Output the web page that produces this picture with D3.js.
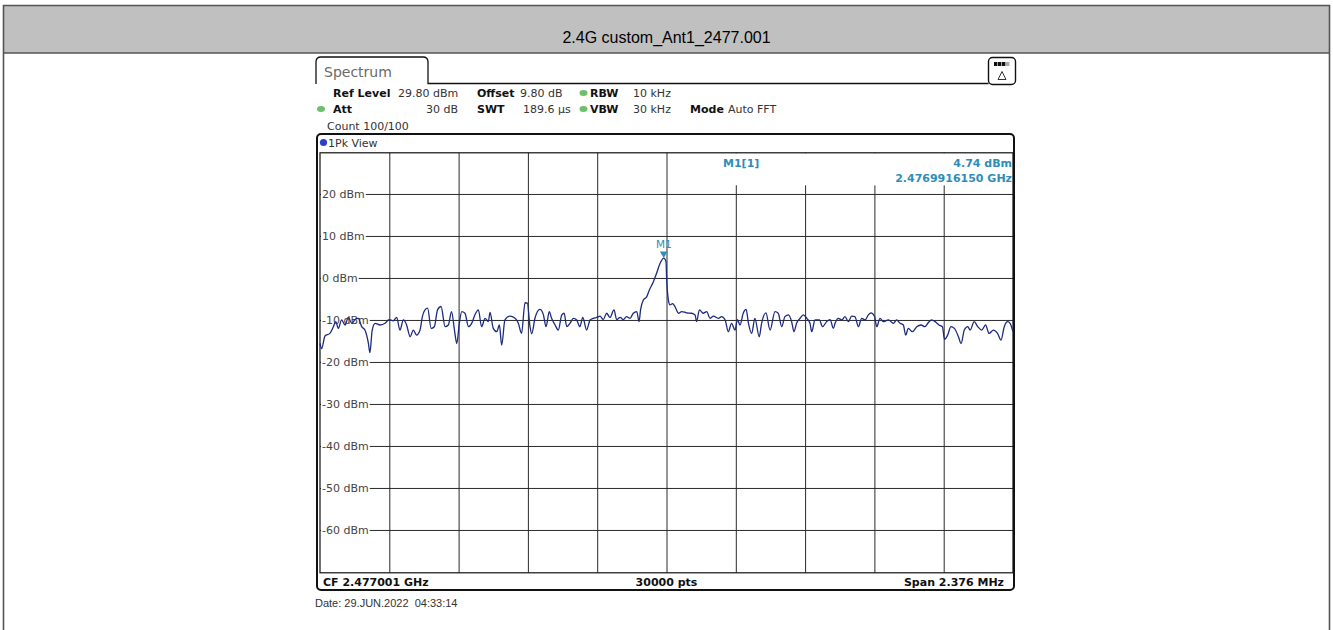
<!DOCTYPE html>
<html>
<head>
<meta charset="utf-8">
<script src="https://cdn.jsdelivr.net/npm/d3@7"></script>
<style>
  body { margin: 0; background: #fff; }
  svg { display: block; }
</style>
</head>
<body>
<div id="chart"></div>
<script>
var freqKHz = [
  -1188, -1182, -1171, -1154, -1142, -1134, -1125, -1114, -1102, -1091, -1079, -1068, -1057, -1045, -1034,
  -1022, -1017, -1009, -999, -982, -965, -951, -937, -925, -914, -902, -891, -879, -868, -857, -845, -837,
  -828, -819, -807, -796, -785, -773, -759, -748, -737, -727, -719, -711, -702, -691, -679, -668, -657,
  -645, -634, -622, -611, -605, -594, -582, -573, -565, -554, -537, -519, -508, -497, -485, -477, -468,
  -462, -451, -434, -422, -413, -402, -394, -382, -371, -359, -351, -342, -331, -319, -308, -297, -287,
  -274, -262, -251, -239, -228, -217, -205, -194, -180, -171, -159, -148, -137, -125, -114, -102, -94,
  -89, -79, -68, -59, -45, -34, -22, -9.4, -1.6, 0.6, 2.9, 6.3, 12, 21, 29, 41, 52, 69, 86, 98, 103, 113,
  126, 138, 149, 161, 178, 189, 201, 212, 223, 235, 243, 252, 263, 273, 281, 292, 303, 318, 326, 341, 355,
  372, 383, 395, 406, 418, 429, 437, 446, 458, 469, 481, 492, 498, 509, 524, 535, 549, 561, 572, 578, 589,
  601, 612, 623, 635, 646, 658, 669, 681, 692, 701, 713, 721, 732, 743, 761, 778, 789, 801, 812, 820, 829,
  843, 858, 873, 886, 898, 909, 921, 934, 946, 953, 964, 975, 987, 1001, 1010, 1021, 1033, 1041, 1055,
  1067, 1081, 1094, 1106, 1121, 1135, 1147, 1158, 1170, 1178, 1188
];
var levelDbm = [
  -15.6, -16.8, -13.8, -13.2, -11.6, -10.4, -12.0, -10.0, -11.2, -9.4, -10.8, -9.9, -9.6, -11.6, -12.4,
  -15.6, -17.8, -12.4, -10.8, -11.2, -10.8, -9.9, -10.2, -9.4, -12.4, -10.0, -11.2, -14.0, -12.4, -13.6, -12.4, -9.2,
  -7.6, -7.2, -12.0, -11.6, -7.6, -6.8, -11.6, -11.2, -8.0, -12.4, -15.6, -11.2, -8.0, -8.4, -11.6, -10.8, -8.8,
  -7.6, -11.6, -9.6, -10.4, -8.2, -12.0, -12.8, -11.2, -16.0, -10.0, -9.1, -9.6, -10.8, -13.2, -5.9, -6.0, -11.6,
  -13.3, -9.6, -7.5, -8.8, -11.6, -8.0, -9.6, -11.2, -12.4, -8.8, -8.4, -11.6, -10.8, -9.6, -10.0, -11.6, -9.4,
  -12.4, -10.0, -9.6, -9.4, -9.1, -9.9, -8.4, -9.4, -7.6, -9.9, -9.4, -9.9, -9.2, -9.6, -8.4, -8.0, -10.4,
  -7.6, -5.2, -4.5, -2.9, -0.9, 1.1, 3.5, 4.74, 3.9, -0.5, -2.9, -5.2, -6.4, -6.1, -6.8, -8.4, -8.0, -8.3, -8.4, -8.8, -10.4, -7.6,
  -8.4, -8.0, -9.6, -9.1, -9.6, -9.2, -10.0, -12.8, -10.8, -12.4, -9.9, -11.2, -8.4, -7.5, -10.8, -13.2, -9.6, -14.0, -10.8, -8.3, -12.4,
  -8.0, -8.4, -11.6, -9.2, -8.8, -10.4, -12.8, -10.8, -9.6, -8.8, -9.6, -10.8, -12.8, -10.0, -10.0, -11.6, -10.4, -9.9, -12.0, -10.8, -9.6,
  -10.0, -9.2, -10.4, -9.1, -9.2, -11.6, -9.6, -10.0, -8.8, -8.3, -9.1, -11.6, -9.6, -10.4, -10.0, -10.8, -10.0, -10.8, -11.2, -13.6, -12.0,
  -12.8, -11.6, -11.2, -11.6, -10.6, -10.0, -10.4, -11.2, -11.6, -14.6, -13.6, -11.6, -12.0, -14.0, -15.6, -12.4, -11.6, -12.4, -10.4,
  -11.6, -12.4, -11.2, -13.2, -12.4, -13.2, -14.8, -11.6, -10.4, -10.8, -12.8
];

// axis settings of the analyzer
var yTicks = [20, 10, 0, -10, -20, -30, -40, -50, -60];
var refLevel = 29.8;
var spanKHz = 2376;
var marker = { name: 'M1', freqKHz: -9.4, level: 4.74, label: 'M1[1]', value: '4.74 dBm', freq: '2.4769916150 GHz' };

var title = '2.4G custom_Ant1_2477.001';
var headerRows = [
  [ { t: 'Ref Level', x: 333, b: true }, { t: '29.80 dBm', x: 398 }, { t: 'Offset', x: 477, b: true },
    { t: '9.80 dB', x: 520 }, { t: 'RBW', x: 590, b: true }, { t: '10 kHz', x: 633 } ],
  [ { t: 'Att', x: 333, b: true }, { t: '30 dB', x: 458, anchor: 'end' }, { t: 'SWT', x: 477, b: true },
    { t: '189.6 µs', x: 523 }, { t: 'VBW', x: 590, b: true }, { t: '30 kHz', x: 633 },
    { t: 'Mode', x: 690, b: true }, { t: 'Auto FFT', x: 728 } ],
  [ { t: 'Count 100/100', x: 327 } ]
];
var statusTexts = ['CF 2.477001 GHz', '30000 pts', 'Span 2.376 MHz'];
var dateText = 'Date: 29.JUN.2022  04:33:14';

var W = 1333, H = 630;
var plot = { left: 320, right: 1013, top: 152.8, bottom: 572.8 };
var mono = '"DejaVu Sans", Verdana, sans-serif';
var traceColor = '#1d2b7d', markerColor = '#2f8db8';

var svg = d3.select('#chart').append('svg')
    .attr('width', W)
    .attr('height', H);

svg.append('rect').attr('width', W).attr('height', H).attr('fill', '#fff');

//
// outer page box + title bar
//
svg.append('rect')
    .attr('x', 4).attr('y', 5.5).attr('width', 1325).attr('height', 47.5)
    .attr('fill', '#c0c0c0');
svg.append('path')
    .attr('d', 'M3.5,' + (H + 5) + 'V5.5H1329.5V' + (H + 5))
    .attr('fill', 'none').attr('stroke', '#555').attr('stroke-width', 1.6);
svg.append('line')
    .attr('x1', 3.5).attr('x2', 1329.5).attr('y1', 53).attr('y2', 53)
    .attr('stroke', '#555').attr('stroke-width', 1.4);
svg.append('text')
    .attr('x', 666.5).attr('y', 43)
    .attr('text-anchor', 'middle')
    .style('font-family', '"Liberation Sans", Arial, sans-serif')
    .style('font-size', '16px')
    .attr('fill', '#000')
    .text(title);

//
// tab + icon
//
svg.append('path')
    .attr('d', 'M316,84V62Q316,57 321,57H423Q428,57 428,62V83.5H988.5')
    .attr('fill', 'none').attr('stroke', '#111').attr('stroke-width', 1.3);
svg.append('text')
    .attr('x', 324).attr('y', 76.5)
    .style('font-family', mono).style('font-size', '14px')
    .attr('fill', '#6a6a6a')
    .text('Spectrum');

var icon = svg.append('g');
icon.append('rect')
    .attr('x', 988.5).attr('y', 57.5).attr('width', 27).attr('height', 27).attr('rx', 4)
    .attr('fill', '#fff').attr('stroke', '#111').attr('stroke-width', 1.4);
icon.selectAll('rect.seg')
    .data([0, 1, 2, 3])
    .enter().append('rect')
    .attr('class', 'seg')
    .attr('x', function (d) { return 994 + d * 4; })
    .attr('y', 62).attr('width', 3.4).attr('height', 4)
    .attr('fill', function (d) { return d < 3 ? '#111' : '#aaa'; });
icon.append('path')
    .attr('d', 'M998,79.5L1002,71.5L1006,79.5Z')
    .attr('fill', 'none').attr('stroke', '#333').attr('stroke-width', 1);

//
// header parameters
//
var rowBase = [97, 113, 129.5];
headerRows.forEach(function (row, i) {
  svg.append('g').selectAll('text')
      .data(row)
      .enter().append('text')
      .attr('x', function (d) { return d.x; })
      .attr('y', rowBase[i])
      .attr('text-anchor', function (d) { return d.anchor || 'start'; })
      .style('font-family', mono)
      .style('font-size', '11px')
      .style('font-weight', function (d) { return d.b ? 'bold' : 'normal'; })
      .attr('fill', function (d) { return d.b ? '#111' : '#333'; })
      .text(function (d) { return d.t; });
});
svg.selectAll('ellipse.led')
    .data([[583.5, 93], [321, 109], [583.5, 109]])
    .enter().append('ellipse')
    .attr('class', 'led')
    .attr('cx', function (d) { return d[0]; })
    .attr('cy', function (d) { return d[1]; })
    .attr('rx', 4).attr('ry', 3)
    .attr('fill', '#6cbf6c');

//
// diagram frame
//
svg.append('rect')
    .attr('x', 317).attr('y', 134).attr('width', 697).attr('height', 456).attr('rx', 4)
    .attr('fill', '#fff').attr('stroke', '#111').attr('stroke-width', 2);
svg.append('circle')
    .attr('cx', 323.5).attr('cy', 142.5).attr('r', 3.6)
    .attr('fill', '#2a3fd0');
svg.append('text')
    .attr('x', 328).attr('y', 146.5)
    .style('font-family', mono).style('font-size', '11px')
    .attr('fill', '#333')
    .text('1Pk View');

var x = d3.scaleLinear()
    .domain([-spanKHz / 2, spanKHz / 2])
    .range([plot.left, plot.right]);
var y = d3.scaleLinear()
    .domain([refLevel - 100, refLevel])
    .range([plot.bottom, plot.top]);

var xGrid = d3.range(1, 10).map(function (i) { return -spanKHz / 2 + i * spanKHz / 10; });

// grid via axes
var gx = svg.append('g')
    .attr('class', 'grid')
    .attr('transform', 'translate(0,' + plot.bottom + ')')
    .call(d3.axisBottom(x).tickValues(xGrid).tickSize(-(plot.bottom - plot.top)).tickFormat(''));
var gy = svg.append('g')
    .attr('class', 'grid')
    .attr('transform', 'translate(' + plot.left + ',0)')
    .call(d3.axisLeft(y).tickValues(yTicks).tickSize(-(plot.right - plot.left)).tickFormat(''));
svg.selectAll('.grid .domain').remove();
svg.selectAll('.grid line')
    .attr('stroke', '#2a2a2a')
    .attr('stroke-width', 1);

// marker table blanks the grid under it
svg.append('rect')
    .attr('x', x(0) + 2).attr('y', plot.top + 0.5)
    .attr('width', plot.right - x(0) - 2.5).attr('height', 32)
    .attr('fill', '#fff');

// y labels sit on their grid line with a white backing
var yl = svg.append('g').selectAll('g')
    .data(yTicks)
    .enter().append('g');
yl.append('rect').attr('class', 'bg');
yl.append('text')
    .attr('x', 322)
    .attr('y', function (d) { return y(d); })
    .attr('dy', '0.36em')
    .style('font-family', mono).style('font-size', '11px')
    .attr('fill', '#444')
    .text(function (d) { return d + ' dBm'; });
yl.each(function (d) {
  var g = d3.select(this);
  var w = g.select('text').node().getComputedTextLength();
  g.select('rect.bg')
      .attr('x', plot.left + 1).attr('y', y(d) - 6)
      .attr('width', 322 + w - plot.left).attr('height', 12)
      .attr('fill', '#fff');
});

// plot area border
svg.append('rect')
    .attr('x', plot.left).attr('y', plot.top)
    .attr('width', plot.right - plot.left).attr('height', plot.bottom - plot.top)
    .attr('fill', 'none').attr('stroke', '#111').attr('stroke-width', 1.2);

//
// trace
//
var trace = freqKHz.map(function (f, i) { return { f: f, v: levelDbm[i] }; });
var line = d3.line()
    .curve(d3.curveMonotoneX)
    .x(function (d) { return x(d.f); })
    .y(function (d) { return y(d.v); });
svg.append('path')
    .datum(trace)
    .attr('d', line)
    .attr('fill', 'none')
    .attr('stroke', traceColor)
    .attr('stroke-width', 1.3)
    .attr('stroke-linejoin', 'round');

//
// marker
//
var mx = x(marker.freqKHz), my = y(marker.level);
svg.append('path')
    .attr('d', 'M' + mx + ',' + my + 'l-3.8,-6.5h7.6z')
    .attr('fill', markerColor);
svg.append('text')
    .attr('x', mx).attr('y', my - 10)
    .attr('text-anchor', 'middle')
    .style('font-family', mono).style('font-size', '10.5px')
    .attr('fill', markerColor)
    .text(marker.name);

var mt = svg.append('g')
    .style('font-family', mono).style('font-size', '11px').style('font-weight', 'bold')
    .attr('fill', markerColor);
mt.append('text').attr('x', 723).attr('y', 167).text(marker.label);
mt.append('text').attr('x', plot.right - 1).attr('y', 167).attr('text-anchor', 'end').text(marker.value);
mt.append('text').attr('x', plot.right - 1).attr('y', 182).attr('text-anchor', 'end').text(marker.freq);

//
// status bar + date
//
svg.append('g').selectAll('text')
    .data(statusTexts)
    .enter().append('text')
    .attr('x', function (d, i) { return [323, x(0), plot.right - 9][i]; })
    .attr('y', 585.5)
    .attr('text-anchor', function (d, i) { return ['start', 'middle', 'end'][i]; })
    .style('font-family', mono).style('font-size', '11px').style('font-weight', 'bold')
    .attr('fill', '#111')
    .text(function (d) { return d; });

svg.append('text')
    .attr('x', 315).attr('y', 607)
    .style('font-family', '"Liberation Sans", Arial, sans-serif')
    .style('font-size', '11px')
    .style('white-space', 'pre')
    .attr('fill', '#333')
    .text(dateText);
</script>
</body>
</html>
